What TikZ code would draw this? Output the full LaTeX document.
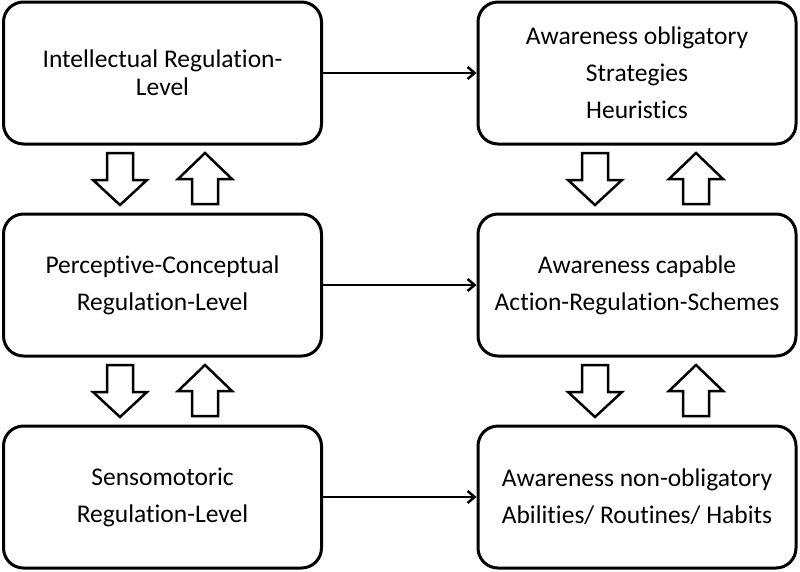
\documentclass[tikz,border=0pt]{standalone}
\usepackage{fontspec}
\setmainfont{Carlito}[Ligatures=NoCommon]
\usetikzlibrary{arrows.meta}
\begin{document}
\begin{tikzpicture}[x=1pt,y=-1pt,
  box/.style={draw, line width=3pt, rounded corners=20pt, minimum width=318pt, minimum height=142pt, align=center, inner sep=0pt},
  tight/.style={font=\fontsize{25.5}{28}\selectfont},
  loose/.style={font=\fontsize{25.5}{37}\selectfont},
  conn/.style={line width=2.5pt, -{Straight Barb[length=7pt,width=12pt,line width=2.5pt]}},
  blockarrow/.style={draw, line width=2.5pt, fill=white, line join=miter}]
\useasboundingbox (0,0) rectangle (800,571);
\node[box,tight] (l1) at (162.5,73) {Intellectual Regulation-\\Level};
\node[box,loose] (l2) at (162.5,285) {Perceptive-Conceptual\\Regulation-Level};
\node[box,loose] (l3) at (162.5,497) {Sensomotoric\\Regulation-Level};
\node[box,loose] (r1) at (637,73) {Awareness obligatory\\Strategies\\Heuristics};
\node[box,loose] (r2) at (637,285) {Awareness capable\\Action-Regulation-Schemes};
\node[box,loose] (r3) at (637,497) {Awareness non-obligatory\\Abilities/ Routines/ Habits};
\draw[conn] (l1.east) -- (r1.west);
\draw[conn] (l2.east) -- (r2.west);
\draw[conn] (l3.east) -- (r3.west);
% block arrows: down at cx, up at ux, starting at ya
\foreach \cx/\ux/\ya in {120/205/153, 120/205/365, 595/696/365, 595/696/153}{
  \draw[blockarrow] ({\cx-13},\ya) -- ({\cx+13},\ya) -- ({\cx+13},\ya+27) -- ({\cx+27},\ya+27) -- (\cx,\ya+52) -- ({\cx-27},\ya+27) -- ({\cx-13},\ya+27) -- cycle;
  \draw[blockarrow] ({\ux-13},\ya+51) -- ({\ux+13},\ya+51) -- ({\ux+13},\ya+26) -- ({\ux+27},\ya+26) -- (\ux,\ya) -- ({\ux-27},\ya+26) -- ({\ux-13},\ya+26) -- cycle;
}
\end{tikzpicture}
\end{document}
